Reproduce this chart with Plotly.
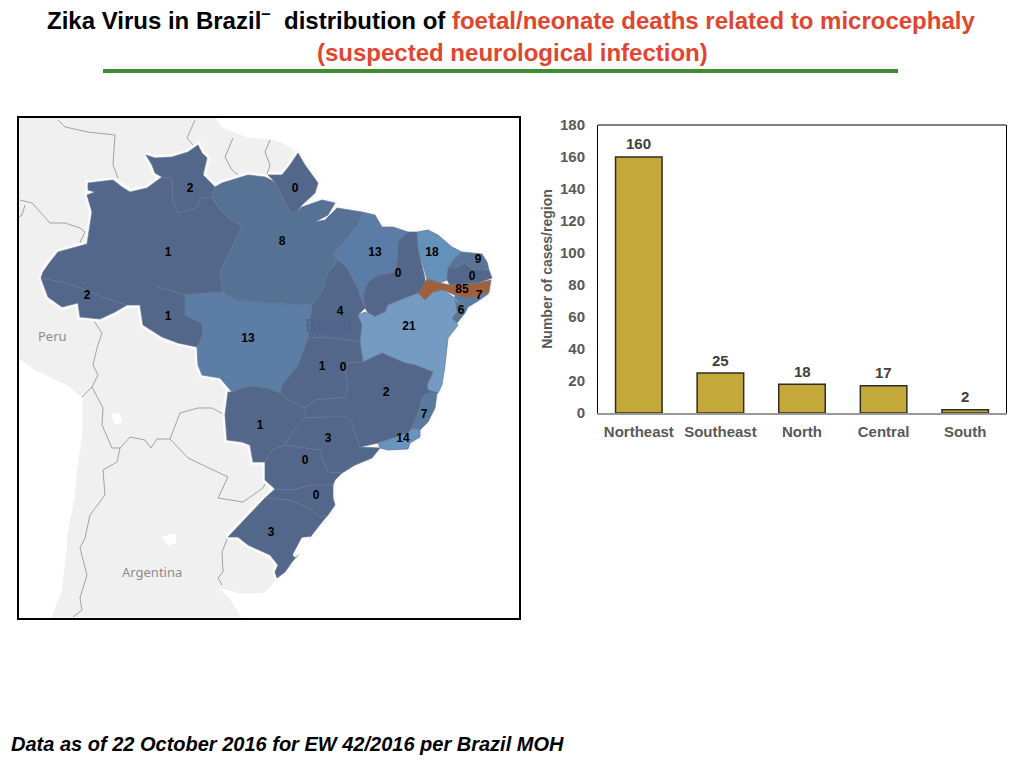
import plotly.graph_objects as go

# bar chart data
regions = ["Northeast", "Southeast", "North", "Central", "South"]
region_cases = [160, 25, 18, 17, 2]
y_ticks = [0, 20, 40, 60, 80, 100, 120, 140, 160, 180]

acre = [(41, 278), (48, 297), (62, 307), (78, 303), (80, 317), (100, 319), (115, 312), (127, 305), (105, 298), (82, 288), (62, 282)]
amazonas = [(41, 278), (43, 272), (50, 262), (58, 252), (87, 244), (92, 212), (87, 195), (95, 192), (88, 190), (88, 183), (113, 180), (122, 187), (130, 192), (147, 188), (162, 177), (172, 178), (173, 202), (178, 213), (188, 210), (198, 207), (200, 198), (212, 197), (215, 202), (222, 212), (242, 227), (220, 272), (223, 292), (185, 295), (158, 287), (140, 305), (127, 305), (105, 298), (82, 288), (62, 282)]
roraima = [(146, 155), (155, 158), (172, 157), (188, 152), (198, 145), (202, 153), (207, 158), (203, 175), (215, 187), (212, 197), (200, 198), (198, 207), (188, 210), (178, 213), (173, 202), (172, 178), (162, 177), (155, 173), (152, 165)]
rondonia = [(158, 287), (185, 295), (185, 315), (202, 323), (203, 335), (197, 347), (178, 343), (162, 337), (143, 325), (140, 305)]
mato_grosso = [(185, 295), (223, 292), (235, 300), (265, 303), (312, 305), (308, 338), (298, 365), (282, 385), (280, 393), (270, 389), (255, 386), (245, 387), (232, 392), (220, 378), (202, 375), (198, 365), (197, 347), (203, 335), (202, 323), (185, 315)]
para = [(215, 187), (222, 183), (248, 175), (265, 177), (275, 182), (290, 212), (297, 212), (302, 207), (322, 200), (335, 203), (328, 215), (315, 222), (325, 220), (337, 208), (362, 212), (358, 225), (333, 255), (337, 262), (328, 272), (322, 292), (312, 305), (265, 303), (235, 300), (223, 292), (220, 272), (242, 227), (222, 212), (215, 202), (212, 197)]
amapa = [(268, 175), (282, 175), (290, 165), (298, 153), (305, 165), (318, 183), (315, 193), (302, 205), (297, 212), (290, 212), (275, 182)]
maranhao = [(362, 212), (375, 215), (382, 227), (393, 227), (408, 232), (398, 242), (397, 263), (395, 272), (378, 275), (368, 282), (363, 295), (365, 308), (357, 287), (347, 268), (333, 255), (358, 225)]
tocantins = [(333, 255), (347, 268), (357, 287), (365, 308), (358, 315), (362, 325), (360, 342), (325, 337), (308, 338), (312, 305), (322, 292), (328, 272), (337, 262)]
piaui = [(408, 232), (417, 232), (418, 248), (425, 278), (425, 285), (420, 293), (405, 298), (388, 305), (385, 312), (375, 317), (368, 313), (365, 308), (363, 295), (368, 282), (378, 275), (395, 272), (397, 263), (398, 242)]
ceara = [(417, 232), (428, 230), (438, 235), (452, 247), (462, 252), (455, 258), (448, 268), (447, 280), (440, 283), (427, 279), (418, 248)]
rio_grande_norte = [(462, 252), (482, 254), (487, 262), (489, 270), (472, 269), (465, 263), (455, 268), (448, 268), (455, 258)]
paraiba = [(448, 268), (455, 268), (465, 263), (472, 269), (489, 270), (492, 278), (478, 283), (463, 284), (450, 285), (447, 280)]
pernambuco = [(418, 293), (427, 279), (440, 283), (450, 285), (463, 284), (478, 283), (491, 280), (489, 292), (477, 297), (467, 298), (455, 295), (443, 290), (433, 292), (425, 300)]
alagoas = [(489, 292), (488, 294), (478, 301), (468, 307), (460, 305), (455, 298), (455, 295), (467, 298), (477, 297)]
sergipe = [(455, 300), (460, 305), (468, 307), (465, 313), (457, 323), (452, 318), (457, 312), (455, 305)]
bahia = [(418, 293), (425, 300), (433, 292), (443, 290), (455, 298), (457, 312), (452, 318), (457, 323), (458, 325), (448, 338), (447, 347), (445, 365), (442, 385), (438, 393), (428, 390), (427, 385), (433, 372), (415, 365), (405, 363), (382, 353), (363, 362), (360, 342), (362, 325), (358, 315), (365, 312), (373, 317), (385, 312), (388, 305), (405, 298)]
minas_gerais = [(363, 362), (382, 353), (405, 363), (415, 365), (433, 372), (427, 385), (428, 390), (438, 393), (428, 393), (422, 398), (420, 408), (412, 428), (408, 433), (378, 443), (360, 447), (355, 435), (352, 422), (345, 417), (325, 417), (305, 418), (305, 408), (315, 400), (345, 397), (348, 385), (345, 372), (348, 363)]
espirito_santo = [(422, 398), (428, 393), (437, 393), (435, 408), (428, 422), (420, 430), (412, 428), (420, 408)]
rio_de_janeiro = [(378, 443), (408, 433), (412, 428), (420, 430), (420, 437), (410, 443), (408, 449), (388, 450), (380, 448)]
goias = [(308, 338), (325, 337), (360, 342), (363, 362), (348, 363), (345, 372), (348, 385), (345, 397), (315, 400), (305, 408), (288, 400), (280, 393), (282, 385), (298, 365)]
mato_grosso_sul = [(225, 415), (228, 392), (232, 392), (245, 387), (255, 386), (270, 389), (280, 393), (288, 400), (305, 408), (305, 418), (295, 428), (285, 445), (272, 450), (265, 462), (253, 462), (250, 445), (242, 442), (227, 440)]
sao_paulo = [(305, 418), (325, 417), (345, 417), (352, 422), (355, 435), (360, 447), (380, 448), (372, 458), (355, 465), (342, 473), (328, 472), (323, 462), (320, 450), (298, 447), (285, 445), (295, 428)]
parana = [(272, 450), (285, 445), (298, 447), (320, 450), (323, 462), (328, 472), (342, 473), (335, 480), (333, 485), (312, 485), (292, 490), (275, 489), (265, 480), (265, 462)]
santa_catarina = [(275, 489), (292, 490), (312, 485), (333, 485), (333, 498), (335, 505), (328, 515), (320, 517), (308, 507), (288, 500), (265, 498)]
rio_grande_sul = [(265, 498), (288, 500), (308, 507), (320, 517), (328, 515), (322, 522), (308, 540), (298, 555), (292, 562), (285, 572), (277, 578), (275, 572), (278, 565), (270, 555), (248, 545), (238, 537), (228, 537), (242, 522), (255, 508)]

# grey land around Brazil and the border lines on it
land = [(19, 118), (215, 118), (222, 128), (248, 138), (270, 140), (282, 143), (298, 153), (320, 300), (277, 578), (265, 592), (258, 593), (238, 593), (218, 587), (232, 602), (240, 617), (52, 617), (62, 592), (67, 552), (68, 532), (75, 498), (78, 465), (83, 432), (83, 398), (68, 385), (35, 370), (19, 358)]
lagoon = [(293, 555), (302, 538), (310, 537), (307, 547), (295, 557)]
lake_titicaca = [(111, 415), (119, 413), (122, 422), (116, 425)]
lake_argentina = [(162, 537), (175, 534), (176, 543), (168, 545)]
borders = [
    [(58, 120), (65, 127), (88, 132), (115, 135), (113, 165), (118, 178)],
    [(195, 120), (187, 138), (193, 145)],
    [(233, 138), (225, 157), (232, 170), (242, 178)],
    [(270, 140), (265, 152), (270, 165), (267, 175)],
    [(20, 200), (32, 203), (50, 223), (65, 223), (80, 228), (85, 232), (80, 242), (87, 245)],
    [(25, 205), (22, 215), (19, 217)],
    [(92, 318), (102, 333), (97, 348), (93, 365), (98, 375), (92, 387), (103, 408), (102, 425), (112, 448), (120, 448)],
    [(82, 397), (92, 387)],
    [(120, 448), (130, 437), (145, 440), (151, 448), (157, 439), (170, 439)],
    [(170, 439), (180, 413), (198, 408), (212, 408), (225, 415)],
    [(170, 439), (188, 458), (228, 477), (218, 498), (243, 502), (263, 488), (267, 480)],
    [(120, 448), (117, 462), (103, 470), (105, 495), (90, 515), (85, 538), (80, 548), (87, 575), (80, 598), (82, 610), (73, 617)],
    [(228, 537), (222, 552), (223, 572), (218, 578), (222, 585)],
]

# deaths per state and where their numbers sit on the map
state_deaths = [2, 1, 2, 1, 13, 8, 0, 4, 13, 0, 18, 9, 0, 85, 7, 6, 21, 2, 7, 14, 3, 1, 1, 0, 0, 0, 3]
label_x = [87, 168, 190, 168, 248, 282, 295, 340, 375, 398, 432, 478, 472, 462, 479, 461, 409, 386, 424, 403, 328, 260, 322, 343, 305, 316, 271]
label_y = [296, 253, 189, 317, 339, 242, 189, 312, 253, 274, 253, 260, 277, 290, 296, 311, 327, 393, 415, 439, 439, 426, 367, 368, 461, 496, 533]

dark = "#53678a"
states = [
    (acre, dark), (amazonas, dark), (roraima, dark), (rondonia, dark), (mato_grosso, "#5c7da6"),
    (para, "#557194"), (amapa, dark), (maranhao, "#5b7ca6"), (tocantins, dark), (piaui, dark),
    (ceara, "#6491b9"), (rio_grande_norte, "#587497"), (paraiba, dark), (pernambuco, "#a0603e"),
    (alagoas, "#5b7ca6"), (sergipe, "#587497"), (bahia, "#739bc3"), (minas_gerais, dark),
    (espirito_santo, "#587a9f"), (rio_de_janeiro, "#6995bd"), (goias, dark), (mato_grosso_sul, dark),
    (sao_paulo, dark), (parana, dark), (santa_catarina, dark), (rio_grande_sul, dark),
]

fig = go.Figure()


def add_poly(points, color, line_color, width=0.8):
    fig.add_trace(go.Scatter(x=[p[0] for p in points] + [points[0][0]],
                             y=[p[1] for p in points] + [points[0][1]],
                             mode="lines", fill="toself", fillcolor=color,
                             line=dict(color=line_color, width=width),
                             xaxis="x2", yaxis="y2", hoverinfo="skip"))


add_poly(land, "#f0f0f0", "#f0f0f0")
for border in borders:
    fig.add_trace(go.Scatter(x=[p[0] for p in border], y=[p[1] for p in border], mode="lines",
                             line=dict(color="#a3a3a3", width=1), xaxis="x2", yaxis="y2", hoverinfo="skip"))
for lake in [lake_titicaca, lake_argentina]:
    add_poly(lake, "white", "white")
# pale halo round the country
for shape, color in states:
    add_poly(shape, "#fafafa", "#fafafa", 6)
for shape, color in states:
    add_poly(shape, color, "#66758f", 0.7)
add_poly(lagoon, "white", "white")

fig.add_trace(go.Scatter(x=label_x, y=label_y, mode="text", text=[str(v) for v in state_deaths],
                         textfont=dict(family="Liberation Sans", size=12, color="black", weight="bold"),
                         xaxis="x2", yaxis="y2", hoverinfo="skip"))

fig.add_trace(go.Bar(x=regions, y=region_cases, marker=dict(color="#c4a93a", line=dict(color="#2e2e24", width=1.5))))

tick_font = dict(family="Liberation Sans", size=15, color="#595959", weight="bold")
fig.update_layout(
    width=1024, height=768, margin=dict(l=0, r=0, t=0, b=0),
    paper_bgcolor="white", plot_bgcolor="white", showlegend=False, bargap=0.43,
    xaxis=dict(domain=[598 / 1024, 1006 / 1024], anchor="y", automargin=False, tickfont=tick_font, showgrid=False,
               showline=True, linecolor="#999999", linewidth=2, ticks="outside", ticklen=4, tickcolor="white"),
    yaxis=dict(domain=[1 - 413 / 768, 1 - 125 / 768], anchor="x", automargin=False, range=[0, 180], tickvals=y_ticks,
               tickfont=tick_font, showgrid=False, zeroline=False, showline=True, mirror=True,
               linecolor="black", linewidth=1, ticks="outside", ticklen=9, tickcolor="white",
               title=dict(text="Number of cases/region", standoff=4,
                          font=dict(family="Liberation Sans", size=14, color="#595959", weight="bold"))),
    xaxis2=dict(domain=[19 / 1024, 519 / 1024], anchor="y2", automargin=False, range=[19, 519], showgrid=False,
                zeroline=False, showticklabels=False, ticks="", showline=True, mirror=True, linecolor="black", linewidth=2),
    yaxis2=dict(domain=[1 - 618 / 768, 1 - 118 / 768], anchor="x2", automargin=False, range=[618, 118], showgrid=False,
                zeroline=False, showticklabels=False, ticks="", showline=True, mirror=True, linecolor="black", linewidth=2),
)

# value labels above the bars
for region, cases in zip(regions, region_cases):
    fig.add_annotation(x=region, y=cases, xref="x", yref="y", yshift=13, text=str(cases), showarrow=False,
                       font=dict(family="Liberation Sans", size=15, color="#404040", weight="bold"))

# top edge of the bar chart frame and the green rule under the title
fig.add_shape(type="line", xref="x domain", yref="y domain", x0=0, x1=1, y0=1, y1=1, line=dict(color="black", width=1))
fig.add_shape(type="line", xref="paper", yref="paper", x0=103 / 1024, x1=898 / 1024, y0=1 - 71 / 768, y1=1 - 71 / 768,
              line=dict(color="#3f8b32", width=4))

red = "#e2452f"
fig.add_annotation(xref="paper", yref="paper", x=511 / 1024, y=1 - 19 / 768, showarrow=False, xanchor="center", yanchor="middle",
                   text="Zika Virus in Brazil<sup>–</sup>  distribution of <span style='color:%s'>foetal/neonate deaths related to microcephaly</span>" % red,
                   font=dict(family="Liberation Sans", size=24, color="black", weight="bold"))
fig.add_annotation(xref="paper", yref="paper", x=512 / 1024, y=1 - 53 / 768, showarrow=False, xanchor="center", yanchor="middle",
                   text="(suspected neurological infection)",
                   font=dict(family="Liberation Sans", size=24, color=red, weight="bold"))
fig.add_annotation(xref="paper", yref="paper", x=9 / 1024, y=1 - 744 / 768, showarrow=False, xanchor="left", yanchor="middle",
                   text="Data as of 22 October 2016 for EW 42/2016 per Brazil MOH",
                   font=dict(family="Liberation Sans", size=20, color="black", weight="bold", style="italic"))
fig.add_annotation(x=52, y=336, xref="x2", yref="y2", text="Peru", showarrow=False,
                   font=dict(family="Noto Sans", size=13, color="#8c8c8c"))
fig.add_annotation(x=152, y=572, xref="x2", yref="y2", text="Argentina", showarrow=False,
                   font=dict(family="Noto Sans", size=13, color="#8c8c8c"))
fig.add_annotation(x=328, y=325, xref="x2", yref="y2", text="Brazil", showarrow=False,
                   font=dict(family="Noto Sans", size=18, color="#48648f"))

fig.write_html("out.html", config={"displayModeBar": False},
               post_script="document.body.style.margin='0';document.body.style.overflow='hidden';")
